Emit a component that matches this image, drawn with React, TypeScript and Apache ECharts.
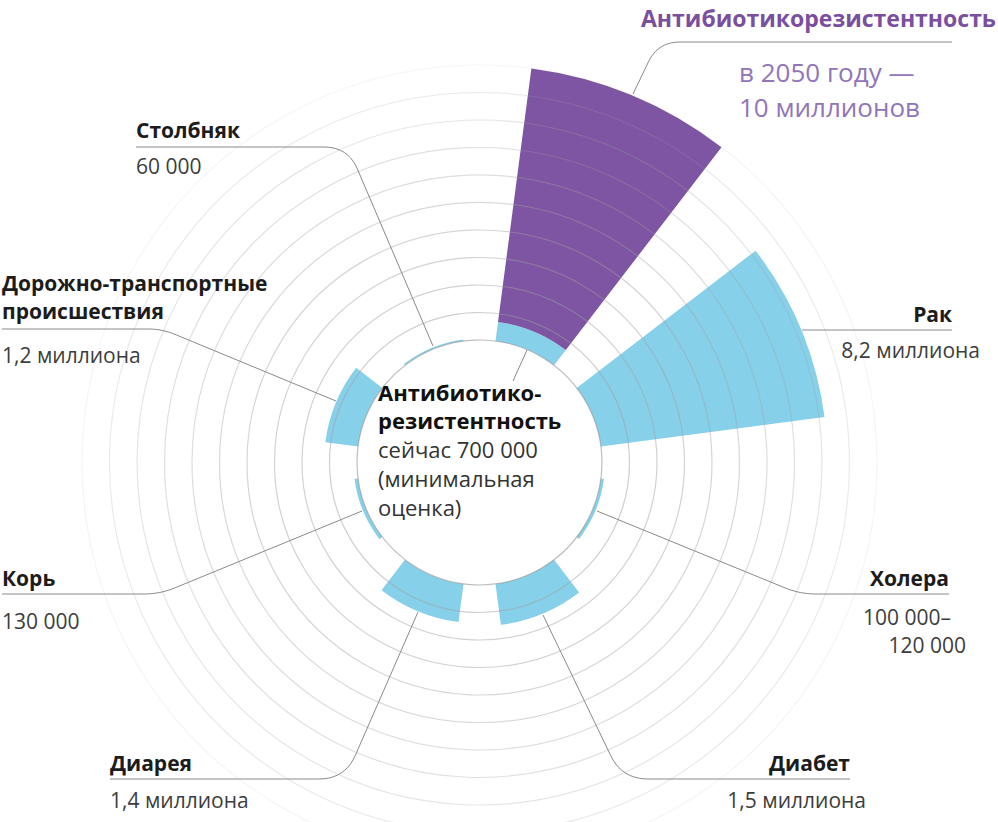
import React, { useEffect, useRef } from "react";
import * as echarts from "echarts";

// ---- data ----
const categories = [
  "Антибиотикорезистентность",
  "Рак",
  "Холера",
  "Диабет",
  "Диарея",
  "Корь",
  "Дорожно-транспортные происшествия",
  "Столбняк",
];
// deaths per year, millions
const currentValues = [0.7, 8.2, 0.11, 1.5, 1.4, 0.13, 1.2, 0.06];
// extra to reach forecast for 2050 (antibiotic resistance: 10 million total)
const forecastExtra = [9.3, 0, 0, 0, 0, 0, 0, 0];
const radiusTicks = [0, 1, 2, 3, 4, 5, 6, 7, 8, 9, 10];

const FONT = "'Open Sans', sans-serif";
const BLUE = "#87d0ea";
const PURPLE = "#7d55a3";
const LINE = "#8a8a8a";

function rounded(p0: number[], c: number[], p1: number[], r: number): number[][] {
  const d0 = Math.hypot(p0[0] - c[0], p0[1] - c[1]);
  const d1 = Math.hypot(p1[0] - c[0], p1[1] - c[1]);
  const a = [c[0] + ((p0[0] - c[0]) / d0) * r, c[1] + ((p0[1] - c[1]) / d0) * r];
  const b = [c[0] + ((p1[0] - c[0]) / d1) * r, c[1] + ((p1[1] - c[1]) / d1) * r];
  const pts: number[][] = [p0];
  const n = 10;
  for (let i = 0; i <= n; i++) {
    const t = i / n;
    const x = (1 - t) * (1 - t) * a[0] + 2 * (1 - t) * t * c[0] + t * t * b[0];
    const y = (1 - t) * (1 - t) * a[1] + 2 * (1 - t) * t * c[1] + t * t * b[1];
    pts.push([x, y]);
  }
  pts.push(p1);
  return pts;
}

function leader(points: number[][], color = LINE, width = 1) {
  return {
    type: "polyline",
    silent: true,
    z: 20,
    shape: { points },
    style: { stroke: color, lineWidth: width, fill: null },
  };
}

function txt(
  text: string,
  x: number,
  y: number,
  opts: { bold?: boolean; size?: number; color?: string; align?: string } = {}
) {
  return {
    type: "text",
    x,
    y,
    z: 30,
    silent: true,
    style: {
      text,
      fill: opts.color || (opts.bold ? "#1c1c1c" : "#3d3d3d"),
      fontFamily: FONT,
      fontSize: opts.size || 21,
      fontWeight: opts.bold ? "bold" : "normal",
      textAlign: opts.align || "left",
      textVerticalAlign: "middle",
    },
  };
}

export default function App() {
  const ref = useRef<HTMLDivElement>(null);
  useEffect(() => {
    if (!ref.current) return;
    const chart = echarts.init(ref.current, null, { renderer: "svg" });
    const gridColors = [
      "rgba(150,150,150,0.62)",
      "rgba(160,160,160,0.5)",
      "rgba(160,160,160,0.48)",
      "rgba(160,160,160,0.46)",
      "rgba(160,160,160,0.43)",
      "rgba(160,160,160,0.4)",
      "rgba(160,160,160,0.36)",
      "rgba(160,160,160,0.32)",
      "rgba(160,160,160,0.27)",
      "rgba(160,160,160,0.22)",
      "rgba(160,160,160,0.1)",
    ];
    const graphics: any[] = [
      // leader lines
      leader(rounded([952, 42], [658, 42], [633, 94], 22)),
      leader(rounded([136, 147], [348, 147], [433, 346], 24)),
      leader(rounded([2, 329], [162, 329], [336, 401], 14)),
      leader([[802, 330], [952, 330]]),
      leader(rounded([949, 594], [800, 594], [597, 511], 16)),
      leader(rounded([2, 594], [160, 594], [362, 511], 16)),
      leader(rounded([110, 779], [345, 779], [418, 612], 26)),
      leader(rounded([850, 779], [622, 779], [543, 615], 26)),
      leader([[513, 381], [527, 350]]),
      // title
      txt("Антибиотикорезистентность", 641, 18, { bold: true, size: 23, color: "#7a4f9f" }),
      txt("в 2050 году —", 739, 72, { size: 26, color: "#9275b9" }),
      txt("10 миллионов", 739, 107, { size: 26, color: "#9275b9" }),
      // labels
      txt("Столбняк", 136, 130, { bold: true }),
      txt("60 000", 136, 166),
      txt("Дорожно-транспортные", 2, 283, { bold: true }),
      txt("происшествия", 2, 311, { bold: true }),
      txt("1,2 миллиона", 2, 355),
      txt("Рак", 952, 314, { bold: true, align: "right" }),
      txt("8,2 миллиона", 980, 350, { align: "right" }),
      txt("Холера", 949, 578, { bold: true, align: "right" }),
      txt("100 000–", 951, 617, { align: "right" }),
      txt("120 000", 966, 645, { align: "right" }),
      txt("Корь", 2, 578, { bold: true }),
      txt("130 000", 2, 621),
      txt("Диарея", 110, 763, { bold: true }),
      txt("1,4 миллиона", 110, 800),
      txt("Диабет", 850, 763, { bold: true, align: "right" }),
      txt("1,5 миллиона", 866, 800, { align: "right" }),
      // center
      txt("Антибиотико-", 378, 392, { bold: true, size: 22, color: "#111" }),
      txt("резистентность", 378, 420, { bold: true, size: 22, color: "#111" }),
      txt("сейчас 700 000", 378, 449, { size: 22, color: "#333" }),
      txt("(минимальная", 378, 478, { size: 22, color: "#333" }),
      txt("оценка)", 378, 507, { size: 22, color: "#333" }),
    ];
    chart.setOption({
      animation: false,
      polar: { center: [479.5, 462.5], radius: [122.5, 397.5] },
      angleAxis: {
        type: "category",
        data: categories,
        startAngle: 90,
        clockwise: true,
        axisLine: { show: false },
        axisTick: { show: false },
        axisLabel: { show: false },
        splitLine: { show: false },
      },
      radiusAxis: {
        type: "value",
        min: radiusTicks[0],
        max: radiusTicks[radiusTicks.length - 1],
        interval: 1,
        z: 5,
        axisLine: { show: false },
        axisTick: { show: false },
        axisLabel: { show: false },
        splitLine: { show: true, lineStyle: { color: gridColors, width: 1.2 } },
      },
      series: [
        {
          type: "bar",
          coordinateSystem: "polar",
          stack: "total",
          data: currentValues,
          barCategoryGap: "33.33%",
          itemStyle: { color: BLUE },
          z: 2,
        },
        {
          type: "bar",
          coordinateSystem: "polar",
          stack: "total",
          data: forecastExtra,
          barCategoryGap: "33.33%",
          itemStyle: { color: PURPLE },
          z: 2,
        },
      ],
      graphic: graphics,
    });
    return () => chart.dispose();
  }, []);
  return (
    <div
      ref={ref}
      style={{ position: "fixed", left: 0, top: 0, width: 998, height: 822, background: "#fff" }}
    />
  );
}
